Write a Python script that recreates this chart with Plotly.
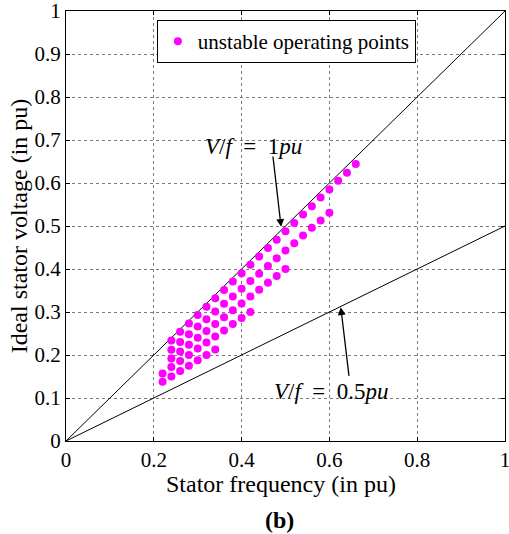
import plotly.graph_objects as go

# Stator frequency (pu) and ideal stator voltage (pu) for unstable operating points, row by row
row1_f = [0.24, 0.26, 0.28, 0.30, 0.32, 0.34, 0.36, 0.38, 0.40, 0.42, 0.44,
          0.46, 0.48, 0.50, 0.52, 0.54, 0.56, 0.58, 0.60, 0.62, 0.64, 0.66]
row1_v = [0.234, 0.254, 0.273, 0.293, 0.312, 0.332, 0.351, 0.371, 0.390, 0.410, 0.429,
          0.449, 0.468, 0.488, 0.507, 0.527, 0.546, 0.566, 0.585, 0.605, 0.624, 0.644]
row2_f = [0.24, 0.26, 0.28, 0.30, 0.32, 0.34, 0.36, 0.38, 0.40, 0.42,
          0.44, 0.46, 0.48, 0.50, 0.52, 0.54, 0.56, 0.58, 0.60]
row2_v = [0.212, 0.230, 0.248, 0.266, 0.283, 0.301, 0.319, 0.336, 0.354, 0.372,
          0.389, 0.407, 0.425, 0.443, 0.460, 0.478, 0.496, 0.513, 0.531]
row3_f = [0.24, 0.26, 0.28, 0.30, 0.32, 0.34, 0.36, 0.38, 0.40, 0.42, 0.44, 0.46, 0.48, 0.50]
row3_v = [0.192, 0.208, 0.224, 0.240, 0.256, 0.272, 0.288, 0.304, 0.320, 0.336, 0.352, 0.368, 0.384, 0.400]
row4_f = [0.22, 0.24, 0.26, 0.28, 0.30, 0.32, 0.34, 0.36, 0.38, 0.40, 0.42]
row4_v = [0.157, 0.172, 0.186, 0.200, 0.215, 0.229, 0.243, 0.257, 0.272, 0.286, 0.300]
row5_f = [0.22, 0.24, 0.26, 0.28, 0.30, 0.32, 0.34]
row5_v = [0.138, 0.150, 0.163, 0.175, 0.188, 0.200, 0.213]

# Reference V/f lines
line_f = [0, 1]
line1_v = [0, 1]
line05_v = [0, 0.5]

x_ticks = [0, 0.2, 0.4, 0.6, 0.8, 1]
y_ticks = [0, 0.1, 0.2, 0.3, 0.4, 0.5, 0.6, 0.7, 0.8, 0.9, 1]

pts_f = row1_f + row2_f + row3_f + row4_f + row5_f
pts_v = row1_v + row2_v + row3_v + row4_v + row5_v

SERIF = "Liberation Serif, Times New Roman, serif"

fig = go.Figure()
fig.add_trace(go.Scatter(x=line_f, y=line1_v, mode="lines",
                         line=dict(color="black", width=1), showlegend=False))
fig.add_trace(go.Scatter(x=line_f, y=line05_v, mode="lines",
                         line=dict(color="black", width=1), showlegend=False))
fig.add_trace(go.Scatter(x=pts_f, y=pts_v, mode="markers",
                         marker=dict(color="#ff00ff", size=8),
                         name="unstable operating points"))

axis_common = dict(
    range=[0, 1], showgrid=True, gridcolor="#7a7a7a", griddash="dot", gridwidth=1,
    showline=True, linecolor="black", linewidth=1.3, mirror="ticks",
    ticks="inside", ticklen=4, tickcolor="black", zeroline=False,
    automargin=False, ticklabeloverflow="allow",
    tickfont=dict(family=SERIF, size=21, color="black"),
)

fig.update_layout(
    width=509, height=534,
    margin=dict(l=66, r=4, t=11, b=93),
    font=dict(family=SERIF, color="black"),
    paper_bgcolor="white", plot_bgcolor="white",
    xaxis=dict(**axis_common, tickvals=x_ticks,
               ticktext=[("%g" % v) for v in x_ticks]),
    yaxis=dict(**axis_common, tickvals=y_ticks,
               ticktext=[("%g" % v) for v in y_ticks],
               title=dict(text="Ideal stator voltage (in pu)", standoff=0,
                          font=dict(family=SERIF, size=24, color="black"))),
    legend=dict(x=0.207, y=0.979, xanchor="left", yanchor="top",
                bgcolor="white", bordercolor="black", borderwidth=1,
                font=dict(family=SERIF, size=21, color="black"),
                itemwidth=30),
    annotations=[
        dict(x=0.49, y=-0.101, xref="paper", yref="paper", showarrow=False,
             yanchor="middle", text="Stator frequency (in pu)",
             font=dict(family=SERIF, size=24, color="black")),
        dict(x=0.490, y=0.498, ax=0.471, ay=0.665, xref="x", yref="y",
             axref="x", ayref="y", showarrow=True, arrowhead=2, arrowsize=1.2,
             arrowwidth=1.3, arrowcolor="black", text=""),
        dict(x=0.428, y=0.684, xref="x", yref="y", showarrow=False,
             text="<i>V</i>/<i>f</i>&nbsp; = &nbsp;1<i>pu</i>",
             font=dict(family=SERIF, size=23, color="black")),
        dict(x=0.626, y=0.311, ax=0.645, ay=0.148, xref="x", yref="y",
             axref="x", ayref="y", showarrow=True, arrowhead=2, arrowsize=1.2,
             arrowwidth=1.3, arrowcolor="black", text=""),
        dict(x=0.605, y=0.115, xref="x", yref="y", showarrow=False,
             text="<i>V</i>/<i>f</i>&nbsp; = &nbsp;0.5<i>pu</i>",
             font=dict(family=SERIF, size=23, color="black")),
        dict(x=0.487, y=-0.184, xref="paper", yref="paper", showarrow=False,
             yanchor="middle", text="<b>(b)</b>",
             font=dict(family=SERIF, size=24, color="black")),
    ],
)

fig.write_html("out.html", config={"displayModeBar": False},
               post_script="document.body.style.margin='0';document.body.style.padding='0';")
